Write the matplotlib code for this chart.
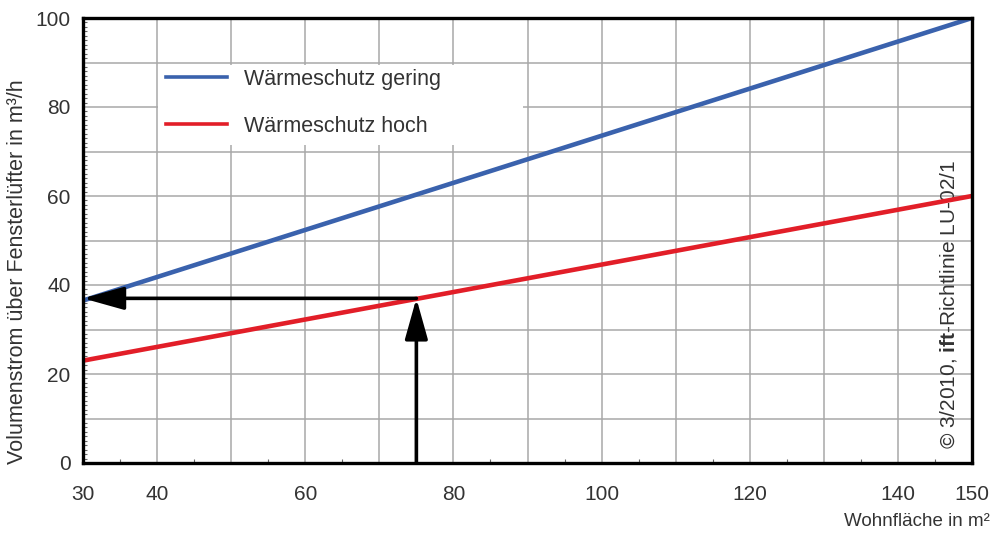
import matplotlib.pyplot as plt
from matplotlib.patches import Rectangle
from matplotlib.ticker import MultipleLocator

plt.rcParams['font.family'] = ['Liberation Sans', 'DejaVu Sans']
plt.rcParams['mathtext.fontset'] = 'custom'
plt.rcParams['mathtext.rm'] = 'Liberation Sans'
plt.rcParams['mathtext.bf'] = 'Liberation Sans:bold'

# Wohnfläche (m²) and Volumenstrom (m³/h)
area = [30, 150]
flow_low = [36.5, 100]    # Wärmeschutz gering
flow_high = [23, 60]      # Wärmeschutz hoch

# reading example: 75 m² at high insulation
read_x = 75
read_y = 37

x_ticks = [30, 40, 60, 80, 100, 120, 140, 150]
y_ticks = [0, 20, 40, 60, 80, 100]

fig = plt.figure(figsize=(9.94, 5.35), dpi=100)
ax = fig.add_axes([83 / 994, 1 - 463 / 535, 889 / 994, 445 / 535])

ax.set_xlim(30, 150)
ax.set_ylim(0, 100)

ax.grid(True, color='#a8a8a8', lw=1.1)
ax.set_axisbelow(True)

ax.set_xticks(range(30, 151, 10))
ax.set_xticklabels([str(v) if v in x_ticks else '' for v in range(30, 151, 10)])
ax.set_yticks(range(0, 101, 10))
ax.set_yticklabels([str(v) if v in y_ticks else '' for v in range(0, 101, 10)])
ax.xaxis.set_minor_locator(MultipleLocator(5))
ax.yaxis.set_minor_locator(MultipleLocator(1))
ax.tick_params(which='major', length=0, labelsize=15, labelcolor='#333333')
ax.tick_params(axis='x', which='major', pad=16)
ax.tick_params(axis='y', which='major', pad=9)
ax.tick_params(which='minor', direction='in', length=3, width=0.8, color='#666666')

for s in ax.spines.values():
    s.set_linewidth(2.4)
    s.set_color('black')
    s.set_zorder(6)

# white legend background hiding the grid
ax.add_patch(Rectangle((40.1, 71.5), 49.3, 18, facecolor='white', edgecolor='none', zorder=1.5))

ax.plot(area, flow_low, color='#3a62ad', lw=3.3, label='Wärmeschutz gering', zorder=3)
ax.plot(area, flow_high, color='#e21e28', lw=3.3, label='Wärmeschutz hoch', zorder=3)

arrow = dict(arrowstyle='-|>,head_length=1.25,head_width=0.35', color='black', lw=2.6,
             mutation_scale=20, shrinkA=0, shrinkB=0)
ax.annotate('', xy=(read_x, read_y), xytext=(read_x, 0), arrowprops=arrow, zorder=4)
ax.annotate('', xy=(30, read_y), xytext=(read_x, read_y), arrowprops=arrow, zorder=4)

leg = ax.legend(loc='upper left', bbox_to_anchor=(0.084, 0.905), frameon=False,
                fontsize=15.5, handlelength=2.8, handletextpad=0.8, labelspacing=1.2,
                borderaxespad=0)
for line in leg.get_lines():
    line.set_linewidth(2.6)
for t in leg.get_texts():
    t.set_color('#333333')

ax.text(146.8, 3.2, r'© 3/2010, $\mathbf{ift}$-Richtlinie LU-02/1', rotation=90,
        ha='center', va='bottom', fontsize=15, color='#333333', zorder=2)

fig.text(18 / 994, 1 - 272 / 535, 'Volumenstrom über Fensterlüfter in m³/h', rotation=90,
         ha='center', va='center', fontsize=15.5, color='#333333')
fig.text(990 / 994, 1 - 522 / 535, 'Wohnfläche in m²', ha='right', va='center',
         fontsize=13.5, color='#333333')

fig.savefig('out.png', dpi=100)
